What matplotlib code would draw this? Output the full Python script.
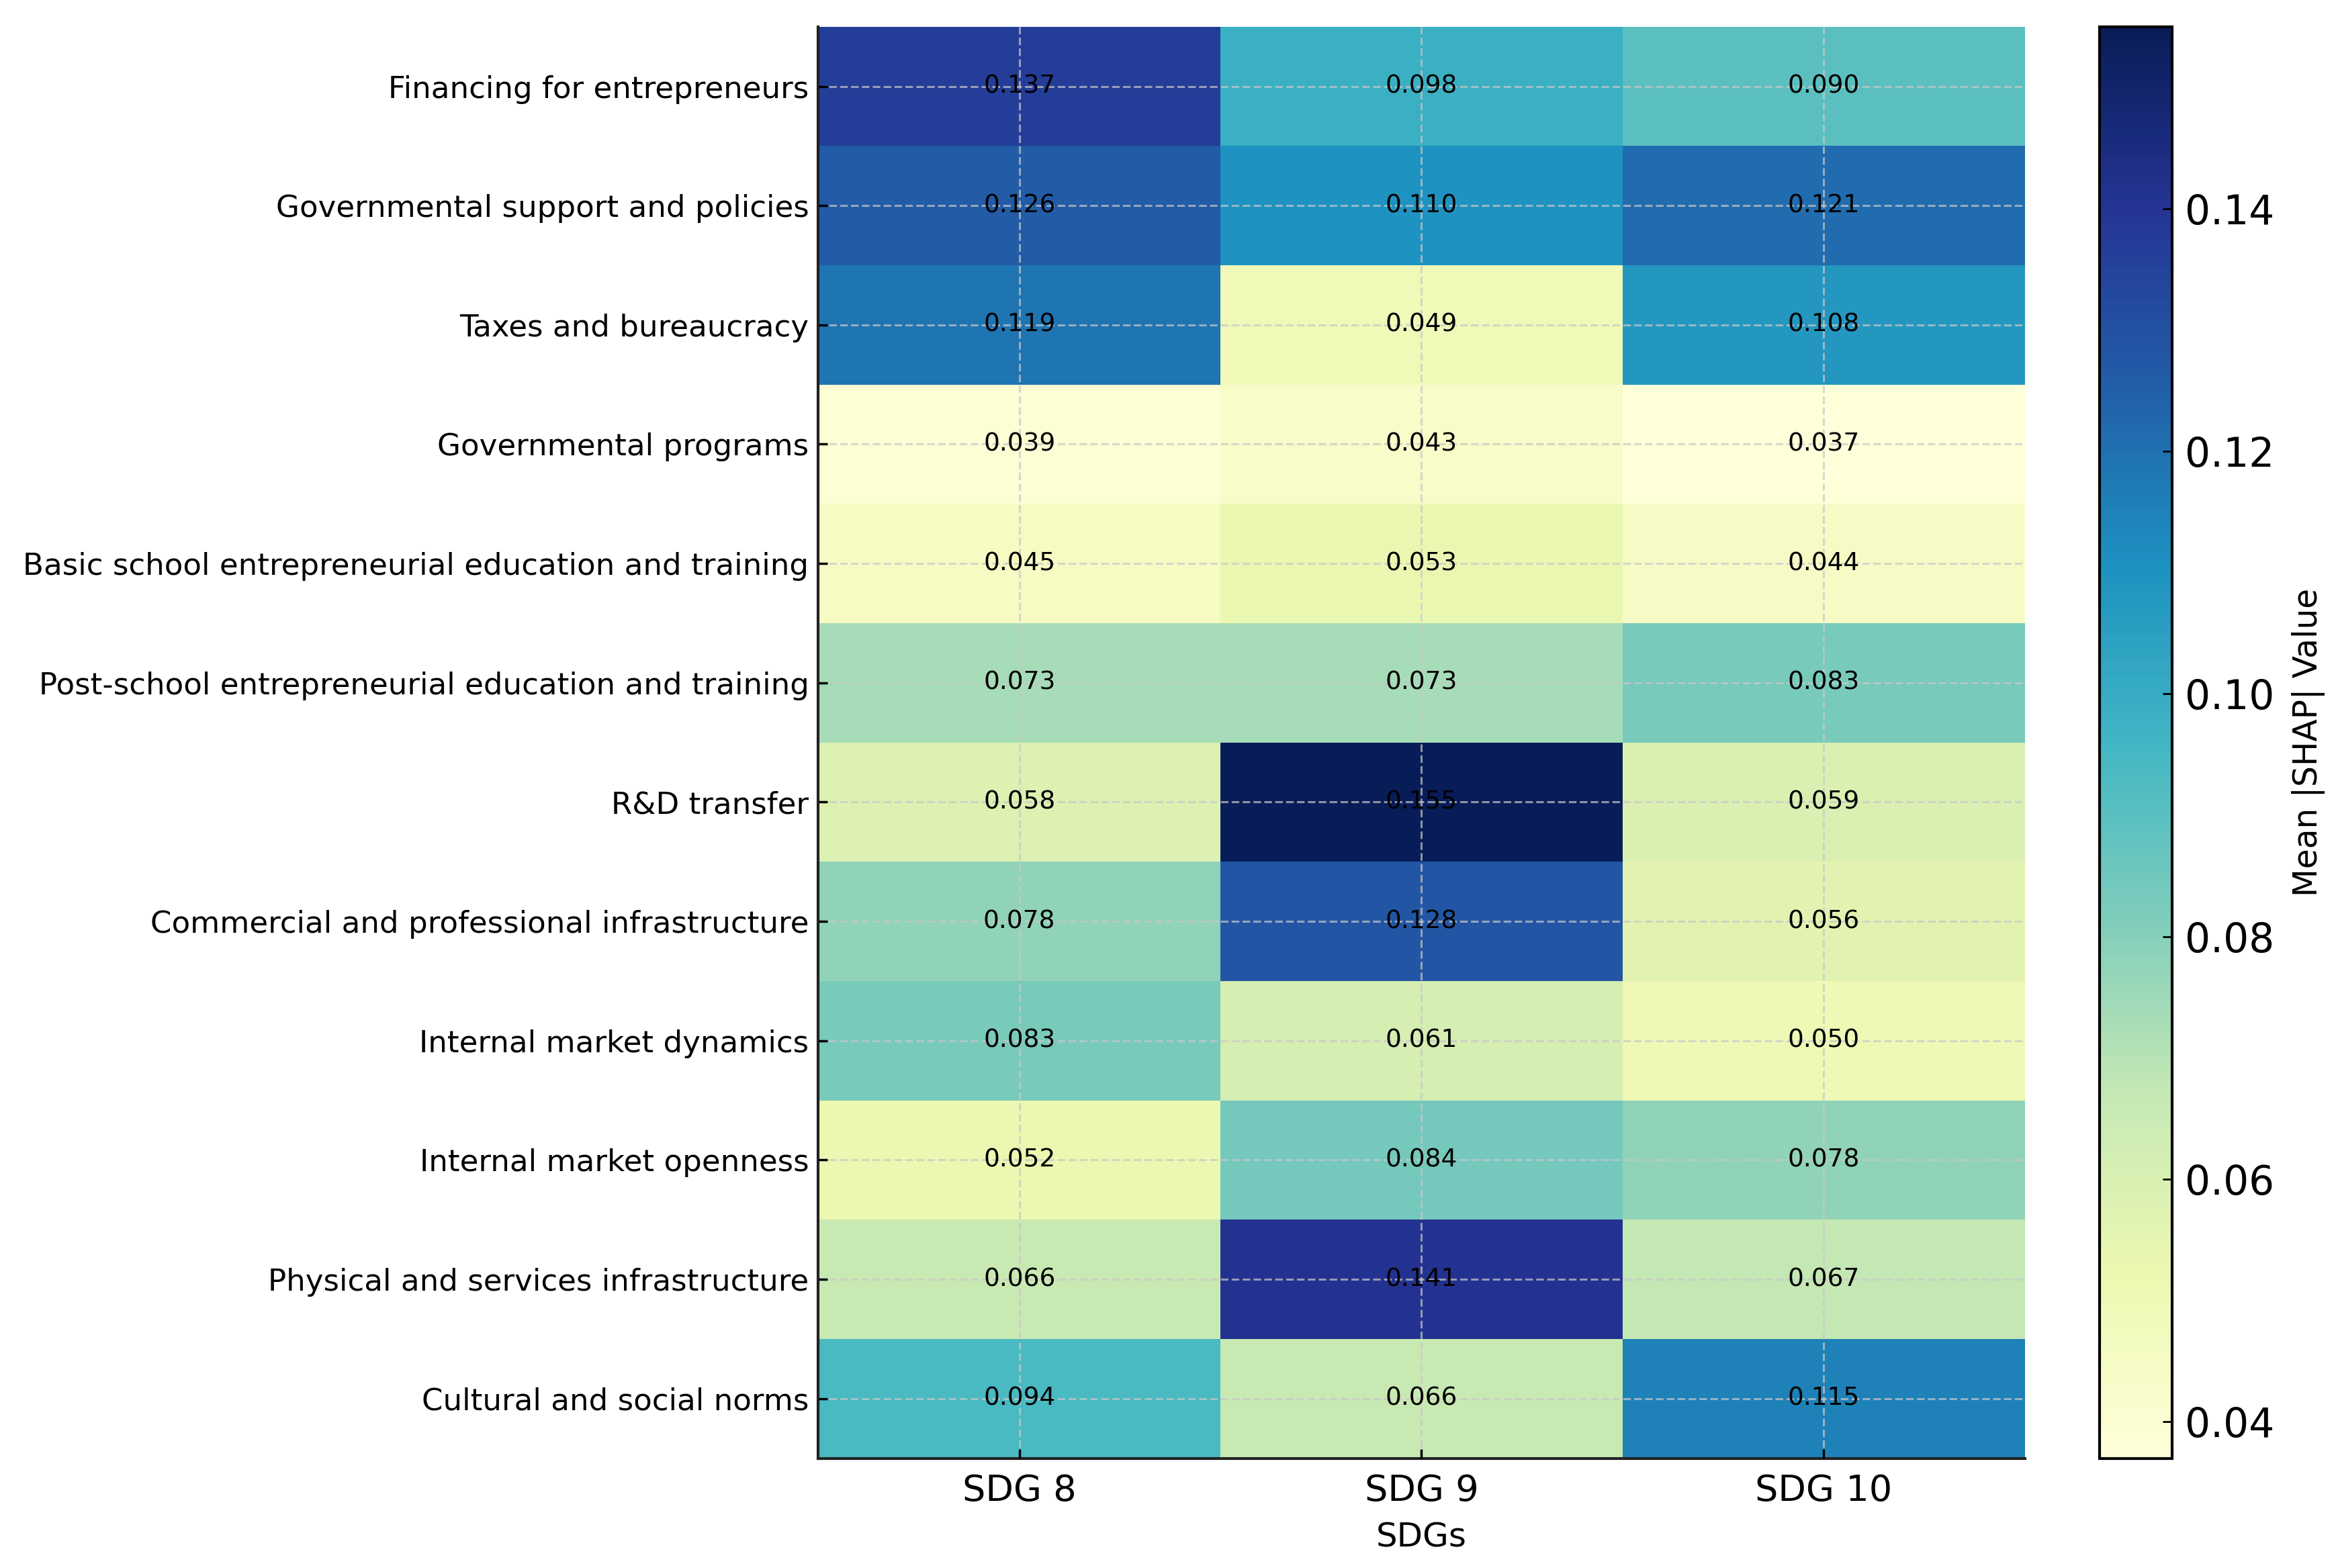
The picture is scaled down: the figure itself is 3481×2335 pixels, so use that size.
import matplotlib
matplotlib.use("Agg")
import matplotlib.pyplot as plt
import numpy as np

factors = [
    "Financing for entrepreneurs",
    "Governmental support and policies",
    "Taxes and bureaucracy",
    "Governmental programs",
    "Basic school entrepreneurial education and training",
    "Post-school entrepreneurial education and training",
    "R&D transfer",
    "Commercial and professional infrastructure",
    "Internal market dynamics",
    "Internal market openness",
    "Physical and services infrastructure",
    "Cultural and social norms",
]
sdgs = ["SDG 8", "SDG 9", "SDG 10"]
sdg8 = [0.137, 0.126, 0.119, 0.039, 0.045, 0.073, 0.058, 0.078, 0.083, 0.052, 0.066, 0.094]
sdg9 = [0.098, 0.110, 0.049, 0.043, 0.053, 0.073, 0.155, 0.128, 0.061, 0.084, 0.141, 0.066]
sdg10 = [0.090, 0.121, 0.108, 0.037, 0.044, 0.083, 0.059, 0.056, 0.050, 0.078, 0.067, 0.115]

data = np.column_stack([sdg8, sdg9, sdg10])

fig = plt.figure(figsize=(34.81, 23.35), dpi=100)
ax = fig.add_axes([0.350, 0.070, 0.516, 0.913])
cax = fig.add_axes([0.898, 0.070, 0.031, 0.913])

im = ax.imshow(data, cmap="YlGnBu", aspect="auto", interpolation="nearest")

for i in range(data.shape[0]):
    for j in range(data.shape[1]):
        ax.text(j, i, f"{data[i, j]:.3f}", ha="center", va="center",
                color="black", fontsize=27, zorder=4)

ax.set_xticks(range(len(sdgs)))
ax.set_xticklabels(sdgs, fontsize=39)
ax.set_yticks(range(len(factors)))
ax.set_yticklabels(factors, fontsize=32.5)
ax.set_xlabel("SDGs", fontsize=36, labelpad=14)
ax.tick_params(axis="y", direction="in", length=10, width=2.5, pad=10)
ax.tick_params(axis="x", direction="in", length=10, width=2.5, pad=16)
ax.grid(True, linestyle="--", color="#c8c8c8", linewidth=2.2, alpha=0.7)
ax.set_axisbelow(False)
for s in ["top", "right"]:
    ax.spines[s].set_visible(False)
for s in ["left", "bottom"]:
    ax.spines[s].set_linewidth(3)
    ax.spines[s].set_color("#222222")

cb = fig.colorbar(im, cax=cax)
cb.set_label("Mean |SHAP| Value", fontsize=35, labelpad=18)
cb.ax.tick_params(direction="in", length=10, width=2, labelsize=43, pad=14)
cb.outline.set_linewidth(3)

fig.savefig("out.png", dpi=100)
